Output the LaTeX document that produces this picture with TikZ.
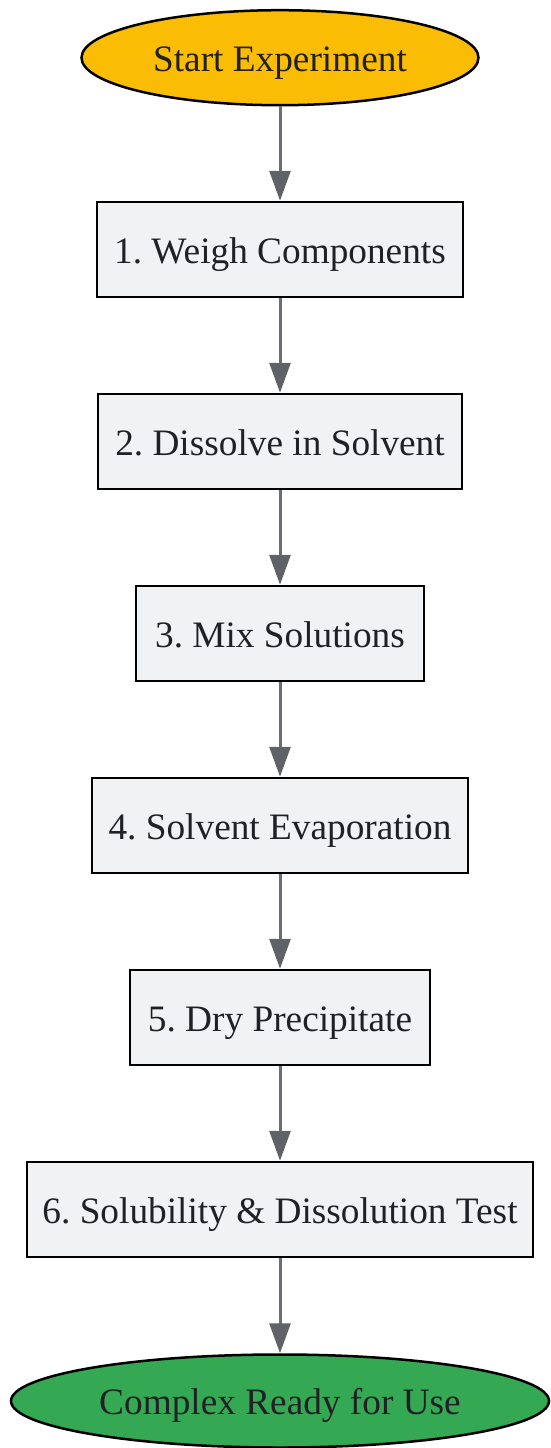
\documentclass[tikz,border=0pt]{standalone}
\usepackage{fontspec}
\setmainfont{Liberation Serif}
\usetikzlibrary{shapes.geometric,arrows.meta}
\definecolor{txt}{HTML}{202124}
\definecolor{boxfill}{HTML}{F1F2F4}
\definecolor{startfill}{HTML}{FBBC04}
\definecolor{endfill}{HTML}{34A853}
\definecolor{edgecol}{HTML}{6B6E73}
\definecolor{tipcol}{HTML}{5F6368}
\frenchspacing
\tikzset{
  base/.style={draw=black, line width=2.5pt, text=txt, inner sep=0pt,
    font=\fontsize{37.3}{44}\selectfont, text height=27pt, text depth=0pt},
  stepbox/.style={base, rectangle, fill=boxfill, minimum height=95pt},
  startnode/.style={base, ellipse, fill=startfill},
  endnode/.style={base, ellipse, fill=endfill},
  flow/.style={draw=edgecol, line width=3pt,
    -{Triangle[length=30pt,width=21pt,color=tipcol]}}
}
\begin{document}
\begin{tikzpicture}[x=1pt,y=-1pt]
\useasboundingbox (0,0) rectangle (550,1448);
\node[startnode, minimum width=397pt, minimum height=95pt] (s) at (280,57.7) {Start Experiment};
\node[stepbox, minimum width=366pt] (n1) at (280,249.5) {1. Weigh Components};
\node[stepbox, minimum width=364pt] (n2) at (280,441.5) {2. Dissolve in Solvent};
\node[stepbox, minimum width=288pt] (n3) at (280,633.5) {3. Mix Solutions};
\node[stepbox, minimum width=376pt] (n4) at (280,825.5) {4. Solvent Evaporation};
\node[stepbox, minimum width=300pt] (n5) at (280,1017.5) {5. Dry Precipitate};
\node[stepbox, minimum width=506pt] (n6) at (280,1209.5) {6. Solubility \& Dissolution Test};
\node[endnode, minimum width=538pt, minimum height=93pt] (e) at (280,1401) {Complex Ready for Use};
\draw[flow] (s) -- (n1);
\draw[flow] (n1) -- (n2);
\draw[flow] (n2) -- (n3);
\draw[flow] (n3) -- (n4);
\draw[flow] (n4) -- (n5);
\draw[flow] (n5) -- (n6);
\draw[flow] (n6) -- (e);
\end{tikzpicture}
\end{document}
